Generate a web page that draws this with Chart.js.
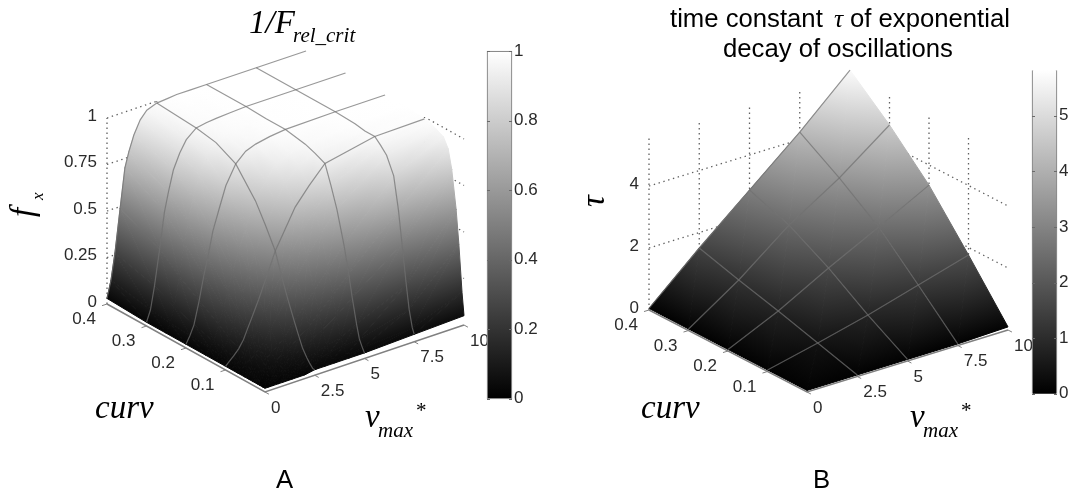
<!DOCTYPE html>
<html>
<head>
<meta charset="utf-8">
<title>1/F rel_crit and time constant surfaces</title>
<script src="https://cdn.jsdelivr.net/npm/chart.js@4"></script>
<style>
  html, body { margin: 0; background: #fff; }
  #page { position: relative; width: 1069px; height: 492px; overflow: hidden; }
  canvas { position: absolute; filter: blur(0.45px); }
</style>
</head>
<body>
<div id="page">
  <canvas id="plotA" width="1069" height="492" style="left:0;top:0"></canvas>
  <canvas id="barA" width="72" height="372" style="left:486px;top:39px"></canvas>
  <canvas id="plotB" width="1069" height="492" style="left:0;top:0"></canvas>
  <canvas id="barB" width="38" height="348" style="left:1031px;top:58px"></canvas>
</div>
<script>
// Panel A: fx over curv (rows) and vmax* (columns).
const curvA = [0, 0.005, 0.013, 0.02, 0.031, 0.04, 0.052, 0.07, 0.085, 0.1, 0.125, 0.15, 0.2, 0.25, 0.3, 0.4];
const vmaxA = [0, 0.2, 0.4, 0.66, 0.9, 1.1, 1.35, 1.67, 2, 2.5, 3, 3.5, 4.2, 5, 7.5, 10];
const fxA = [
  [0.02, 0.02, 0.02, 0.02, 0.02, 0.02, 0.02, 0.02, 0.02, 0.03, 0.03, 0.03, 0.03, 0.03, 0.04, 0.05],
  [0.02, 0.02, 0.02, 0.02, 0.02, 0.03, 0.03, 0.03, 0.03, 0.03, 0.03, 0.04, 0.04, 0.05, 0.07, 0.17],
  [0.02, 0.02, 0.03, 0.03, 0.03, 0.03, 0.04, 0.04, 0.05, 0.05, 0.06, 0.07, 0.08, 0.09, 0.16, 0.42],
  [0.02, 0.02, 0.03, 0.03, 0.04, 0.04, 0.05, 0.05, 0.06, 0.07, 0.085, 0.10, 0.12, 0.16, 0.28, 0.60],
  [0.02, 0.03, 0.03, 0.04, 0.05, 0.05, 0.06, 0.07, 0.085, 0.11, 0.14, 0.17, 0.22, 0.29, 0.49, 0.80],
  [0.02, 0.03, 0.04, 0.05, 0.055, 0.06, 0.075, 0.095, 0.115, 0.16, 0.20, 0.25, 0.32, 0.41, 0.66, 0.90],
  [0.02, 0.03, 0.04, 0.05, 0.07, 0.08, 0.10, 0.13, 0.16, 0.23, 0.29, 0.36, 0.45, 0.55, 0.83, 0.95],
  [0.02, 0.03, 0.05, 0.07, 0.09, 0.11, 0.14, 0.20, 0.25, 0.34, 0.43, 0.52, 0.62, 0.72, 0.92, 0.97],
  [0.02, 0.04, 0.05, 0.08, 0.11, 0.14, 0.19, 0.26, 0.33, 0.44, 0.54, 0.63, 0.73, 0.83, 0.955, 0.985],
  [0.02, 0.04, 0.06, 0.09, 0.13, 0.18, 0.24, 0.32, 0.41, 0.55, 0.65, 0.75, 0.84, 0.93, 0.985, 0.99],
  [0.02, 0.045, 0.07, 0.12, 0.18, 0.25, 0.33, 0.43, 0.53, 0.66, 0.76, 0.85, 0.92, 0.955, 0.985, 0.995],
  [0.02, 0.05, 0.08, 0.16, 0.24, 0.32, 0.42, 0.53, 0.63, 0.76, 0.85, 0.92, 0.955, 0.975, 0.995, 1],
  [0.02, 0.06, 0.11, 0.23, 0.36, 0.45, 0.58, 0.69, 0.80, 0.90, 0.95, 0.97, 0.985, 0.995, 1, 1],
  [0.02, 0.07, 0.15, 0.30, 0.47, 0.58, 0.70, 0.81, 0.90, 0.955, 0.975, 0.985, 0.99, 0.995, 1, 1],
  [0.02, 0.08, 0.20, 0.39, 0.58, 0.68, 0.79, 0.87, 0.93, 0.975, 0.985, 0.99, 0.995, 1, 1, 1],
  [0.03, 0.12, 0.26, 0.49, 0.70, 0.78, 0.86, 0.93, 0.97, 0.99, 0.995, 1, 1, 1, 1, 1],
];
const curvLinesA = [0.1, 0.2, 0.3, 0.4];
const vmaxLinesA = [2.5, 5, 7.5];
const curvTicksA = [0.1, 0.2, 0.3, 0.4];
const vmaxTicksA = [0, 2.5, 5, 7.5, 10];
const zTicksA = [0, 0.25, 0.5, 0.75, 1];
const barTicksA = [0, 0.2, 0.4, 0.6, 0.8, 1];

// Panel B: tau over the same two parameters.
const curvB = [0, 0.1, 0.2, 0.3, 0.4];
const vmaxB = [0, 2.5, 5, 7.5, 10];
const tauB = [
  [0.05, 0.05, 0.05, 0.05, 0.1],
  [0.05, 0.42, 0.82, 1.29, 1.76],
  [0.05, 0.79, 1.68, 2.5, 3.35],
  [0.05, 1.13, 2.4, 3.42, 4.63],
  [0.05, 1.5, 2.87, 4.24, 5.74],
];
const curvLinesB = [0.1, 0.2, 0.3, 0.4];
const vmaxLinesB = [2.5, 5, 7.5];
const curvTicksB = [0.1, 0.2, 0.3, 0.4];
const vmaxTicksB = [0, 2.5, 5, 7.5, 10];
const zTicksB = [0, 2, 4];
const barTicksB = [0, 1, 2, 3, 4, 5];

const SERIF = '"Liberation Serif", serif';
const SANS = '"Liberation Sans", sans-serif';
const TICK_FONT = `17px ${SANS}`;
const TITLE_FONT = `25.7px ${SANS}`;

const labelsA = [
  { text: '1/F', x: 249, y: 33, font: `italic 33px ${SERIF}` },
  { text: 'rel_crit', x: 293, y: 42, font: `italic 21px ${SERIF}` },
  { text: 'f', x: 33, y: 217, font: `italic 33px ${SERIF}`, rotate: true },
  { text: 'x', x: 43, y: 200, font: `italic 17px ${SERIF}`, rotate: true },
  { text: 'curv', x: 95, y: 418, font: `italic 33px ${SERIF}` },
  { text: 'v', x: 365, y: 427, font: `italic 33px ${SERIF}` },
  { text: 'max', x: 378, y: 437, font: `italic 21px ${SERIF}` },
  { text: '*', x: 416, y: 417, font: `21px ${SERIF}` },
  { text: 'A', x: 276, y: 488, font: TITLE_FONT },
];
const labelsB = [
  { text: 'time constant', x: 670, y: 27, font: TITLE_FONT },
  { text: 'τ', x: 834, y: 27, font: `italic 25.7px ${SERIF}` },
  { text: 'of exponential', x: 850, y: 27, font: TITLE_FONT },
  { text: 'decay of oscillations', x: 723, y: 57, font: TITLE_FONT },
  { text: 'τ', x: 604, y: 207, font: `italic 33px ${SERIF}`, rotate: true },
  { text: 'curv', x: 641, y: 418, font: `italic 33px ${SERIF}` },
  { text: 'v', x: 910, y: 427, font: `italic 33px ${SERIF}` },
  { text: 'max', x: 923, y: 437, font: `italic 21px ${SERIF}` },
  { text: '*', x: 961, y: 417, font: `21px ${SERIF}` },
  { text: 'B', x: 813, y: 488, font: TITLE_FONT },
];

// wallV / wallC: how far the level lines run on the two back walls. In A the
// plateau sits right on top of them, so they only show past its edge.
const panelA = {
  curv: curvA, vmax: vmaxA, values: fxA, curvLines: curvLinesA, vmaxLines: vmaxLinesA,
  curvTicks: curvTicksA, vmaxTicks: vmaxTicksA, zTicks: zTicksA, labels: labelsA,
  zTop: 1, shadeMax: 1, wallV: 2.5, wallC: 0.09,
  view: { ox: 265, oy: 392, cx: -158, cy: -88, vx: 199, vy: -67, zy: -186 },
};
const panelB = {
  curv: curvB, vmax: vmaxB, values: tauB, curvLines: curvLinesB, vmaxLines: vmaxLinesB,
  curvTicks: curvTicksB, vmaxTicks: vmaxTicksB, zTicks: zTicksB, labels: labelsB,
  zTop: 5.6, shadeMax: 5.82, wallV: 10, wallC: 0.4,
  view: { ox: 807, oy: 392, cx: -158, cy: -82, vx: 201, vy: -62, zy: -31 },
};

// Fixed orthographic view: the 3D axes map straight to the page scales.
function project(panel, c, v, z) {
  const s = panel.view;
  const a = c / 0.4, b = v / 10;
  return { x: s.ox + a * s.cx + b * s.vx, y: s.oy + a * s.cy + b * s.vy + z * s.zy };
}

function gray(level) {
  const g = Math.round(255 * Math.min(1, Math.max(0, level)));
  return `rgb(${g},${g},${g})`;
}

// Gouraud shading for one triangle: a linear gradient along the fall line of z.
function triangleShade(ctx, shadeMax) {
  const { chart, dataset } = ctx;
  // Options get resolved once before layout, when the scales have no pixels yet.
  if (!chart.chartArea) return '#000';
  const pts = dataset.data.map((p, i) => ({
    x: chart.scales.x.getPixelForValue(p.x),
    y: chart.scales.y.getPixelForValue(p.y),
    z: dataset.heights[i],
  }));
  const [p, q, r] = pts;
  const ux = q.x - p.x, uy = q.y - p.y, uz = q.z - p.z;
  const wx = r.x - p.x, wy = r.y - p.y, wz = r.z - p.z;
  const det = ux * wy - uy * wx;
  if (Math.abs(det) < 1e-6) return gray(p.z / shadeMax);
  const a = (uz * wy - uy * wz) / det;
  const b = (ux * wz - uz * wx) / det;
  const len2 = a * a + b * b;
  if (len2 < 1e-12) return gray(p.z / shadeMax);
  const low = pts.reduce((m, t) => (t.z < m.z ? t : m));
  const high = pts.reduce((m, t) => (t.z > m.z ? t : m));
  const dz = high.z - low.z;
  const g = chart.ctx.createLinearGradient(low.x, low.y, low.x + a / len2 * dz, low.y + b / len2 * dz);
  g.addColorStop(0, gray(low.z / shadeMax));
  g.addColorStop(1, gray(high.z / shadeMax));
  return g;
}

function lineSet(points, color, width, dash) {
  return {
    data: points, showLine: true, pointRadius: 0, borderColor: color,
    borderWidth: width, borderDash: dash || [], fill: false, tension: 0, clip: false,
  };
}

function buildDatasets(panel) {
  const { curv, vmax, values, shadeMax } = panel;
  const sets = [];

  // Grid lines drawn on the surface: pale on the plateau, faint on the dark part
  const meshColor = 'rgba(112,112,112,0.72)';
  panel.curvLines.forEach((c) => {
    const i = curv.indexOf(c);
    sets.push(lineSet(vmax.map((v, j) => project(panel, c, v, values[i][j])), meshColor, 1.2));
  });
  panel.vmaxLines.forEach((v) => {
    const j = vmax.indexOf(v);
    sets.push(lineSet(curv.map((c, i) => project(panel, c, v, values[i][j])), meshColor, 1.2));
  });

  // Floor axes with their outward ticks
  const topC = curv[curv.length - 1], topV = vmax[vmax.length - 1];
  const axisColor = '#808080';
  sets.push(lineSet([project(panel, topC, 0, 0), project(panel, 0, 0, 0), project(panel, 0, topV, 0)], axisColor, 1.5));
  panel.curvTicks.forEach((c) => {
    sets.push(lineSet([project(panel, c, 0, 0), project(panel, c, -0.25, 0)], axisColor, 1));
  });
  panel.vmaxTicks.forEach((v) => {
    sets.push(lineSet([project(panel, 0, v, 0), project(panel, -0.01, v, 0)], axisColor, 1));
  });

  // Surface, nearest cell first: the first dataset is painted last.
  // The first corner is repeated so the stroke also closes the diagonal.
  const shade = (ctx) => triangleShade(ctx, shadeMax);
  const tri = (corners) => {
    const loop = [...corners, corners[0]];
    return {
      data: loop.map(([i, j]) => project(panel, curv[i], vmax[j], values[i][j])),
      heights: loop.map(([i, j]) => values[i][j]),
      showLine: true, pointRadius: 0, tension: 0, clip: false, fill: 'shape',
      backgroundColor: shade, borderColor: shade, borderWidth: 1, borderJoinStyle: 'round',
    };
  };
  for (let i = 0; i < curv.length - 1; i++) {
    for (let j = 0; j < vmax.length - 1; j++) {
      sets.push(tri([[i, j], [i + 1, j], [i + 1, j + 1]]));
      sets.push(tri([[i, j], [i, j + 1], [i + 1, j + 1]]));
    }
  }

  // Dotted grid on the two back walls, hidden wherever the surface covers it.
  const dots = '#606060';
  const dash = [1.4, 3.6];
  panel.vmaxTicks.forEach((v) => {
    sets.push(lineSet([project(panel, topC, v, 0), project(panel, topC, v, panel.zTop)], dots, 1.3, dash));
  });
  panel.curvTicks.forEach((c) => {
    if (c === topC) return;
    sets.push(lineSet([project(panel, c, topV, 0), project(panel, c, topV, panel.zTop)], dots, 1.3, dash));
  });
  panel.zTicks.filter((z) => z > 0).forEach((z) => {
    sets.push(lineSet([project(panel, topC, 0, z), project(panel, topC, panel.wallV, z)], dots, 1.3, dash));
    sets.push(lineSet([project(panel, panel.wallC, topV, z), project(panel, 0, topV, z)], dots, 1.3, dash));
  });
  return sets;
}

const surfaceText = {
  id: 'surfaceText',
  afterDraw(chart, args, opts) {
    const panel = opts.panel;
    const { ctx, scales } = chart;
    const put = (text, x, y, align) => {
      ctx.textAlign = align;
      ctx.textBaseline = 'middle';
      ctx.fillText(text, scales.x.getPixelForValue(x), scales.y.getPixelForValue(y));
    };
    const topC = panel.curv[panel.curv.length - 1];
    ctx.save();
    ctx.font = TICK_FONT;
    ctx.fillStyle = '#2a2a2a';
    panel.zTicks.forEach((z) => {
      const p = project(panel, topC, 0, z);
      put(String(z), p.x - 10, p.y - 2, 'right');
    });
    panel.curvTicks.forEach((c) => {
      const p = project(panel, c, 0, 0);
      put(String(c), p.x - 11, p.y + 15.5, 'right');
    });
    panel.vmaxTicks.forEach((v) => {
      const p = project(panel, 0, v, 0);
      put(String(v), p.x + 6, p.y + 16, 'left');
    });
    ctx.fillStyle = '#000';
    panel.labels.forEach((l) => {
      ctx.save();
      ctx.font = l.font;
      ctx.textAlign = 'left';
      ctx.textBaseline = 'alphabetic';
      ctx.translate(l.x, l.y);
      if (l.rotate) ctx.rotate(-Math.PI / 2);
      ctx.fillText(l.text, 0, 0);
      ctx.restore();
    });
    ctx.restore();
  },
};

function surfaceChart(id, panel) {
  return new Chart(document.getElementById(id), {
    type: 'scatter',
    data: { datasets: buildDatasets(panel) },
    plugins: [surfaceText],
    options: {
      responsive: false,
      animation: false,
      events: [],
      layout: { padding: 0 },
      plugins: {
        legend: { display: false },
        tooltip: { enabled: false },
        surfaceText: { panel },
      },
      scales: {
        x: { type: 'linear', min: 0, max: 1069, display: false },
        y: { type: 'linear', min: 0, max: 492, reverse: true, display: false },
      },
    },
  });
}

// Inward tick marks on both sides of a colorbar
const barTicksMarks = {
  id: 'barTicksMarks',
  afterDatasetsDraw(chart) {
    const { ctx, chartArea, scales } = chart;
    ctx.save();
    ctx.strokeStyle = '#6a6a6a';
    ctx.lineWidth = 1;
    ctx.beginPath();
    scales.y.ticks.forEach((t) => {
      const y = Math.round(scales.y.getPixelForValue(t.value)) + 0.5;
      ctx.moveTo(chartArea.left, y);
      ctx.lineTo(chartArea.left + 3, y);
      ctx.moveTo(chartArea.right - 3, y);
      ctx.lineTo(chartArea.right, y);
    });
    ctx.stroke();
    ctx.restore();
  },
};

function colorbar(id, ticks, top, barBorder) {
  return new Chart(document.getElementById(id), {
    type: 'bar',
    data: {
      labels: [''],
      datasets: [{
        data: [[0, top]],
        barPercentage: 1,
        categoryPercentage: 1,
        borderColor: '#8a8a8a',
        borderWidth: barBorder,
        borderSkipped: false,
        clip: false,
        backgroundColor(ctx) {
          if (!ctx.chart.chartArea) return '#888';
          const y = ctx.chart.scales.y;
          const g = ctx.chart.ctx.createLinearGradient(0, y.getPixelForValue(0), 0, y.getPixelForValue(top));
          g.addColorStop(0, '#000');
          g.addColorStop(1, '#fff');
          return g;
        },
      }],
    },
    plugins: [barTicksMarks],
    options: {
      responsive: false,
      animation: false,
      events: [],
      layout: { padding: { left: 1, top: 12, bottom: 12 } },
      plugins: { legend: { display: false }, tooltip: { enabled: false } },
      scales: {
        x: { display: false },
        y: {
          position: 'right',
          min: 0,
          max: top,
          grid: { display: false, drawTicks: false },
          border: { display: false },
          afterFit(axis) { axis.width = axis.chart.width - 26; },
          afterBuildTicks(axis) { axis.ticks = ticks.map((value) => ({ value })); },
          ticks: {
            padding: 2,
            color: '#2a2a2a',
            font: { family: 'Liberation Sans', size: 17 },
            callback: (value) => String(value),
          },
        },
      },
    },
  });
}

surfaceChart('plotA', panelA);
colorbar('barA', barTicksA, 1, 1.2);
surfaceChart('plotB', panelB);
colorbar('barB', barTicksB, 5.82, { left: 1.2, right: 1.2, top: 0, bottom: 0 });
</script>
</body>
</html>
